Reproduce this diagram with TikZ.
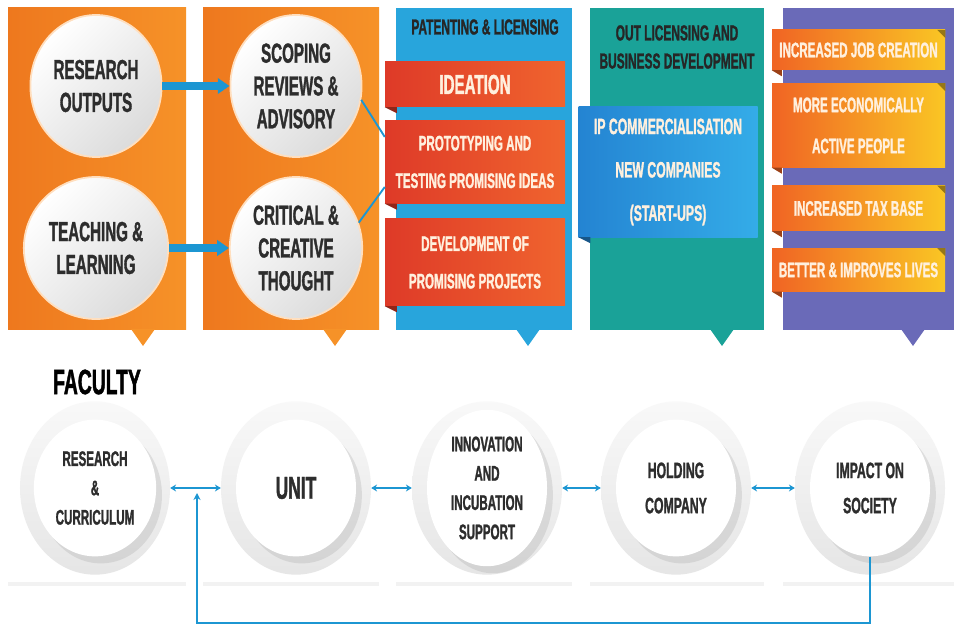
\documentclass[tikz,border=0pt]{standalone}
\usepackage{fontspec}
\setmainfont{Liberation Sans}
\newfontfamily\condfont[FakeStretch=0.55, BoldFeatures={FakeBold=1.2}]{Liberation Sans}
\usetikzlibrary{positioning,shapes.geometric,shadows,arrows.meta,calc}

\definecolor{orangeA}{RGB}{238,120,30}
\definecolor{orangeB}{RGB}{246,146,40}
\definecolor{panelblue}{RGB}{40,165,220}
\definecolor{panelteal}{RGB}{26,162,152}
\definecolor{panelpurple}{RGB}{106,106,184}
\definecolor{ribbonred}{RGB}{222,58,40}
\definecolor{ribbonredlight}{RGB}{240,100,46}
\definecolor{ribbonblue}{RGB}{36,132,210}
\definecolor{ribbonbluelight}{RGB}{52,172,232}
\definecolor{ribbonorange}{RGB}{240,100,36}
\definecolor{ribbonyellow}{RGB}{250,198,36}
\definecolor{linkblue}{RGB}{28,150,210}
\definecolor{textdark}{RGB}{45,45,45}
\definecolor{cream}{RGB}{255,240,222}

\begin{document}
\begin{tikzpicture}[
    x=0.03cm, y=-0.03cm,
    card/.style={fill=white, drop shadow={shadow xshift=0pt, shadow yshift=-3pt, opacity=0.1}},
    orangepanel/.style={left color=orangeA, right color=orangeB},
    topball/.style={ellipse, minimum width=3.69cm, minimum height=4.26cm, draw=orange!25!white, line width=1.5pt, top color=white, bottom color=gray!28, shading angle=45, align=center, text=textdark, font=\condfont\bfseries\fontsize{23.5}{28}\selectfont},
    ring/.style={ellipse, minimum width=4.5cm, minimum height=5.2cm, top color=gray!5, bottom color=gray!20},
    disc/.style={ellipse, minimum width=3.6cm, minimum height=4.1cm, fill=white, drop shadow={shadow xshift=5pt, shadow yshift=-6pt, opacity=0.18}, align=center, text=textdark, font=\condfont\bfseries\fontsize{18}{25}\selectfont},
    heading/.style={align=center, text=black!85, font=\condfont\bfseries\fontsize{18.5}{24}\selectfont},
    redribbon/.style={minimum width=5.4cm, left color=ribbonred, right color=ribbonredlight, text=cream, align=center, font=\condfont\bfseries\fontsize{18}{32}\selectfont},
    blueribbon/.style={minimum width=5.37cm, left color=ribbonblue, right color=ribbonbluelight, text=cream, align=center, font=\condfont\bfseries\fontsize{19}{37}\selectfont},
    goldribbon/.style={minimum width=5.19cm, left color=ribbonorange, right color=ribbonyellow, text=cream, align=center, font=\condfont\bfseries\fontsize{18}{35}\selectfont},
    bigarr/.style={-{Triangle[length=10pt,width=13pt]}, line width=6pt, linkblue},
    thinlink/.style={line width=1.6pt, linkblue},
    link/.style={{Stealth[length=5pt,width=6pt]}-{Stealth[length=5pt,width=6pt]}, line width=2pt, linkblue},
    feedback/.style={-{Stealth[length=6pt,width=6pt]}, line width=2.2pt, linkblue}
  ]
    \useasboundingbox (0,0) rectangle (954,626);
    \fill[white] (0,0) rectangle (954,626);

    % white cards
    \fill[card] (8,8) rectangle (186,582);
    \fill[card] (203,8) rectangle (379,582);
    \fill[card] (396,8) rectangle (572,582);
    \fill[card] (590,8) rectangle (764,582);
    \fill[card] (783,8) rectangle (954,582);

    % coloured tops and pointers
    \fill[orangepanel] (8,8) rectangle (186,330);
    \fill[orangepanel] (203,8) rectangle (379,330);
    \fill[panelblue] (396,8) rectangle (572,330);
    \fill[panelteal] (590,8) rectangle (764,330);
    \fill[panelpurple] (783,8) rectangle (954,330);
    \fill[orangeB] (131,329) -- (155,329) -- (143,346) -- cycle;
    \fill[orangeB] (323,329) -- (347,329) -- (335,346) -- cycle;
    \fill[panelblue] (516,329) -- (540,329) -- (528,346) -- cycle;
    \fill[panelteal] (710,329) -- (734,329) -- (722,346) -- cycle;
    \fill[panelpurple] (901,329) -- (925,329) -- (913,346) -- cycle;

    % column 1 and 2
    \node[topball] (rout) at (96,86) {RESEARCH\\OUTPUTS};
    \node[topball] (tlearn) at (96,248) {TEACHING \&\\LEARNING};
    \node[topball] (scope) at (296,86) {SCOPING\\REVIEWS \&\\ADVISORY};
    \node[topball] (crit) at (296,248) {CRITICAL \&\\CREATIVE\\THOUGHT};
    \draw[bigarr] (rout) -- (scope);
    \draw[bigarr] (tlearn) -- (crit);

    % patenting
    \node[heading] (pathead) at (485,27) {PATENTING \& LICENSING};
    \node[redribbon, minimum height=1.35cm, font=\condfont\bfseries\fontsize{23.5}{26}\selectfont] (ideation) at (475,84.5) {IDEATION};
    \node[redribbon, minimum height=2.49cm, below=0.39cm of ideation] (proto) {PROTOTYPING AND\\TESTING PROMISING IDEAS};
    \node[redribbon, minimum height=2.61cm, below=0.45cm of proto] (devel) {DEVELOPMENT OF\\PROMISING PROJECTS};
    \fill[ribbonred!65!black] (ideation.south west) -- ++(12,0) -- ++(0,6) -- cycle;
    \fill[ribbonred!65!black] (proto.south west) -- ++(12,0) -- ++(0,6) -- cycle;
    \fill[ribbonred!65!black] (devel.south west) -- ++(12,0) -- ++(0,6) -- cycle;
    \coordinate (protoin) at ($(proto.north west)!0.2!(proto.south west)$);
    \coordinate (protoout) at ($(proto.north west)!0.8!(proto.south west)$);
    \draw[thinlink] (scope.-12) -- (protoin);
    \draw[thinlink] (crit.22) -- (protoout);

    % business development
    \node[heading] (outhead) at (677,47) {OUT LICENSING AND\\BUSINESS DEVELOPMENT};
    \node[blueribbon, minimum height=3.9cm] (ipcomm) at (668,172) {IP COMMERCIALISATION\\NEW COMPANIES\\(START-UPS)};
    \fill[ribbonblue!65!black] (ipcomm.south west) -- ++(12,0) -- ++(0,6) -- cycle;

    % impact
    \node[goldribbon, minimum height=1.2cm] (jobs) at (858.5,50) {INCREASED JOB CREATION};
    \node[goldribbon, minimum height=2.52cm, below=0.39cm of jobs] (active) {MORE ECONOMICALLY\\ACTIVE PEOPLE};
    \node[goldribbon, minimum height=1.35cm, below=0.54cm of active] (tax) {INCREASED TAX BASE};
    \node[goldribbon, minimum height=1.29cm, below=0.51cm of tax] (lives) {BETTER \& IMPROVES LIVES};
    \fill[ribbonorange!65!black] (jobs.south west) -- ++(10,0) -- ++(0,6) -- cycle;
    \fill[ribbonorange!65!black] (active.south west) -- ++(10,0) -- ++(0,6) -- cycle;
    \fill[ribbonorange!65!black] (tax.south west) -- ++(10,0) -- ++(0,6) -- cycle;
    \fill[ribbonorange!65!black] (lives.south west) -- ++(10,0) -- ++(0,6) -- cycle;
    \fill[ribbonyellow!60!black] (jobs.north east) -- ++(0,8) -- ++(-8,-8) -- cycle;
    \fill[ribbonyellow!60!black] (active.north east) -- ++(0,8) -- ++(-8,-8) -- cycle;
    \fill[ribbonyellow!60!black] (tax.north east) -- ++(0,8) -- ++(-8,-8) -- cycle;
    \fill[ribbonyellow!60!black] (lives.north east) -- ++(0,8) -- ++(-8,-8) -- cycle;

    % bottom row
    \node[text=black, font=\condfont\bfseries\fontsize{30}{32}\selectfont] (faculty) at (97,382) {FACULTY};
    \node[ring] (rescur) at (95,488) {};
    \node[ring] (unit) at (296,488) {};
    \node[ring] (innov) at (487,488) {};
    \node[ring] (holding) at (676,488) {};
    \node[ring] (impact) at (870,488) {};
    \node[disc] (rescurtxt) at (rescur) {RESEARCH\\\&\\CURRICULUM};
    \node[disc, font=\condfont\bfseries\fontsize{27}{30}\selectfont] (unittxt) at (unit) {UNIT};
    \node[disc] (innovtxt) at (innov) {INNOVATION\\AND\\INCUBATION\\SUPPORT};
    \node[disc, font=\condfont\bfseries\fontsize{19}{30}\selectfont] (holdingtxt) at (holding) {HOLDING\\COMPANY};
    \node[disc, font=\condfont\bfseries\fontsize{19}{30}\selectfont] (impacttxt) at (impact) {IMPACT ON\\SOCIETY};

    \draw[link] (rescur) -- (unit);
    \draw[link] (unit) -- (innov);
    \draw[link] (innov) -- (holding);
    \draw[link] (holding) -- (impact);

    \coordinate (fbcorner) at (197,623);
    \coordinate (fbtip) at (197,493);
    \draw[feedback] (impacttxt.south) |- (fbcorner) -- (fbtip);
  \end{tikzpicture}
\end{document}
